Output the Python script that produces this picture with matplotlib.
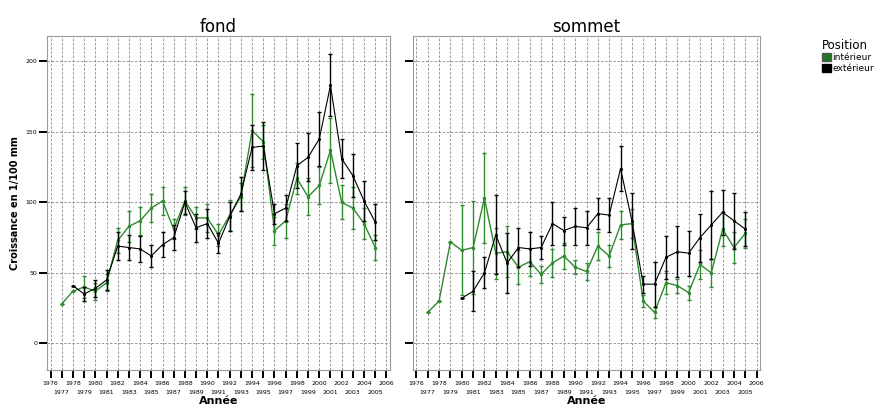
import numpy as np
import matplotlib
matplotlib.use("Agg")
import matplotlib.pyplot as plt
from matplotlib.patches import Patch

years = np.arange(1977, 2006)

# fond - interieur (green) / exterieur (black), mean and error half-width
fond_int = [28, 37, 40, 37, 43, 73, 83, 87, 96, 101, 81, 101, 89, 89, 77,
            91, 104, 151, 143, 80, 87, 117, 104, 112, 137, 100, 96, 85, 68]
fond_int_err = [0, 0, 8, 6, 6, 9, 11, 10, 10, 10, 7, 10, 8, 10, 8,
                11, 10, 26, 12, 10, 12, 11, 13, 13, 23, 12, 15, 11, 9]
fond_ext = [np.nan, 41, 35, 39, 45, 69, 68, 67, 62, 70, 75, 100, 82, 85, 71,
            90, 106, 139, 140, 92, 96, 126, 132, 145, 183, 131, 119, 101, 86]
fond_ext_err = [0, 0, 5, 6, 7, 10, 9, 9, 8, 9, 9, 8, 10, 10, 7,
                10, 12, 16, 17, 7, 9, 16, 17, 19, 22, 14, 15, 14, 13]

# sommet
som_int = [22, 30, 72, 66, 68, 103, 64, 65, 54, 58, 49, 57, 62, 54, 51,
           69, 62, 84, 85, 30, 22, 43, 41, 36, 56, 50, 81, 68, 78]
som_int_err = [0, 0, 0, 32, 33, 32, 18, 18, 12, 10, 6, 10, 9, 5, 6,
               10, 8, 10, 10, 4, 4, 8, 5, 5, 10, 10, 12, 11, 10]
som_ext = [np.nan, np.nan, np.nan, 32, 37, 50, 77, 57, 68, 67, 68, 85, 80, 83, 82,
           92, 91, 124, 87, 42, 42, 61, 65, 64, 75, 84, 93, 87, 81]
som_ext_err = [0, 0, 0, 0, 14, 11, 28, 21, 14, 12, 8, 15, 10, 13, 12,
               11, 12, 16, 20, 6, 16, 15, 18, 16, 17, 24, 16, 20, 12]

even_years = np.arange(1976, 2007, 2)
odd_years = np.arange(1977, 2006, 2)
green = "#2f8a2f"

fig = plt.figure(figsize=(8.9, 4.05), dpi=100)
ax1 = fig.add_axes([0.053, 0.086, 0.385, 0.825])
ax2 = fig.add_axes([0.464, 0.086, 0.390, 0.825])


def draw(ax, title, gi, gie, bi, bie, show_y):
    ax.errorbar(years, gi, yerr=gie, color=green, lw=1.0, elinewidth=1.0,
                capsize=1.5, capthick=1.0, marker="o", ms=1.5, zorder=3)
    ax.errorbar(years, bi, yerr=bie, color="black", lw=0.8, elinewidth=1.0,
                capsize=1.5, capthick=1.0, marker="o", ms=1.2, zorder=4)
    ax.set_xlim(1975.7, 2006.3)
    ax.set_ylim(-19, 218)
    ax.set_yticks([0, 50, 100, 150, 200])
    # even years on the first row, odd years on a second row below
    ax.set_xticks(even_years)
    ax.set_xticks(odd_years, minor=True)
    ax.set_xticklabels([str(y) for y in even_years], fontsize=4.5)
    ax.set_xticklabels([str(y) for y in odd_years], minor=True, fontsize=4.5)
    ax.tick_params(axis="x", which="major", length=6, width=1.4, pad=2)
    ax.tick_params(axis="x", which="minor", length=6, width=1.4, pad=8)
    ax.tick_params(axis="y", length=6, width=1.4, labelsize=4.5, pad=1)
    if not show_y:
        ax.set_yticklabels([])
    ax.grid(True, which="both", axis="x", color="#888888", ls=(0, (3, 2)), lw=0.6)
    ax.grid(True, which="major", axis="y", color="#888888", ls=(0, (3, 2)), lw=0.6)
    for s in ax.spines.values():
        s.set_color("#999999")
    ax.set_title(title, fontsize=12, pad=3)
    ax.set_xlabel("Année", fontsize=8, fontweight="bold", labelpad=1)


draw(ax1, "fond", fond_int, fond_int_err, fond_ext, fond_ext_err, True)
draw(ax2, "sommet", som_int, som_int_err, som_ext, som_ext_err, False)
ax1.set_ylabel("Croissance en 1/100 mm", fontsize=7, fontweight="bold", labelpad=4)

handles = [Patch(facecolor="#1f7a1f", edgecolor="#555555", label="intérieur"),
           Patch(facecolor="black", edgecolor="black", label="extérieur")]
fig.legend(handles=handles, title="Position", loc="upper left",
           bbox_to_anchor=(0.918, 0.915), frameon=False, fontsize=6.5,
           title_fontsize=8.5, handlelength=1.0, handleheight=1.0,
           handletextpad=0.2, labelspacing=0.15, borderpad=0, alignment="left")

fig.savefig("out.png", dpi=100)
